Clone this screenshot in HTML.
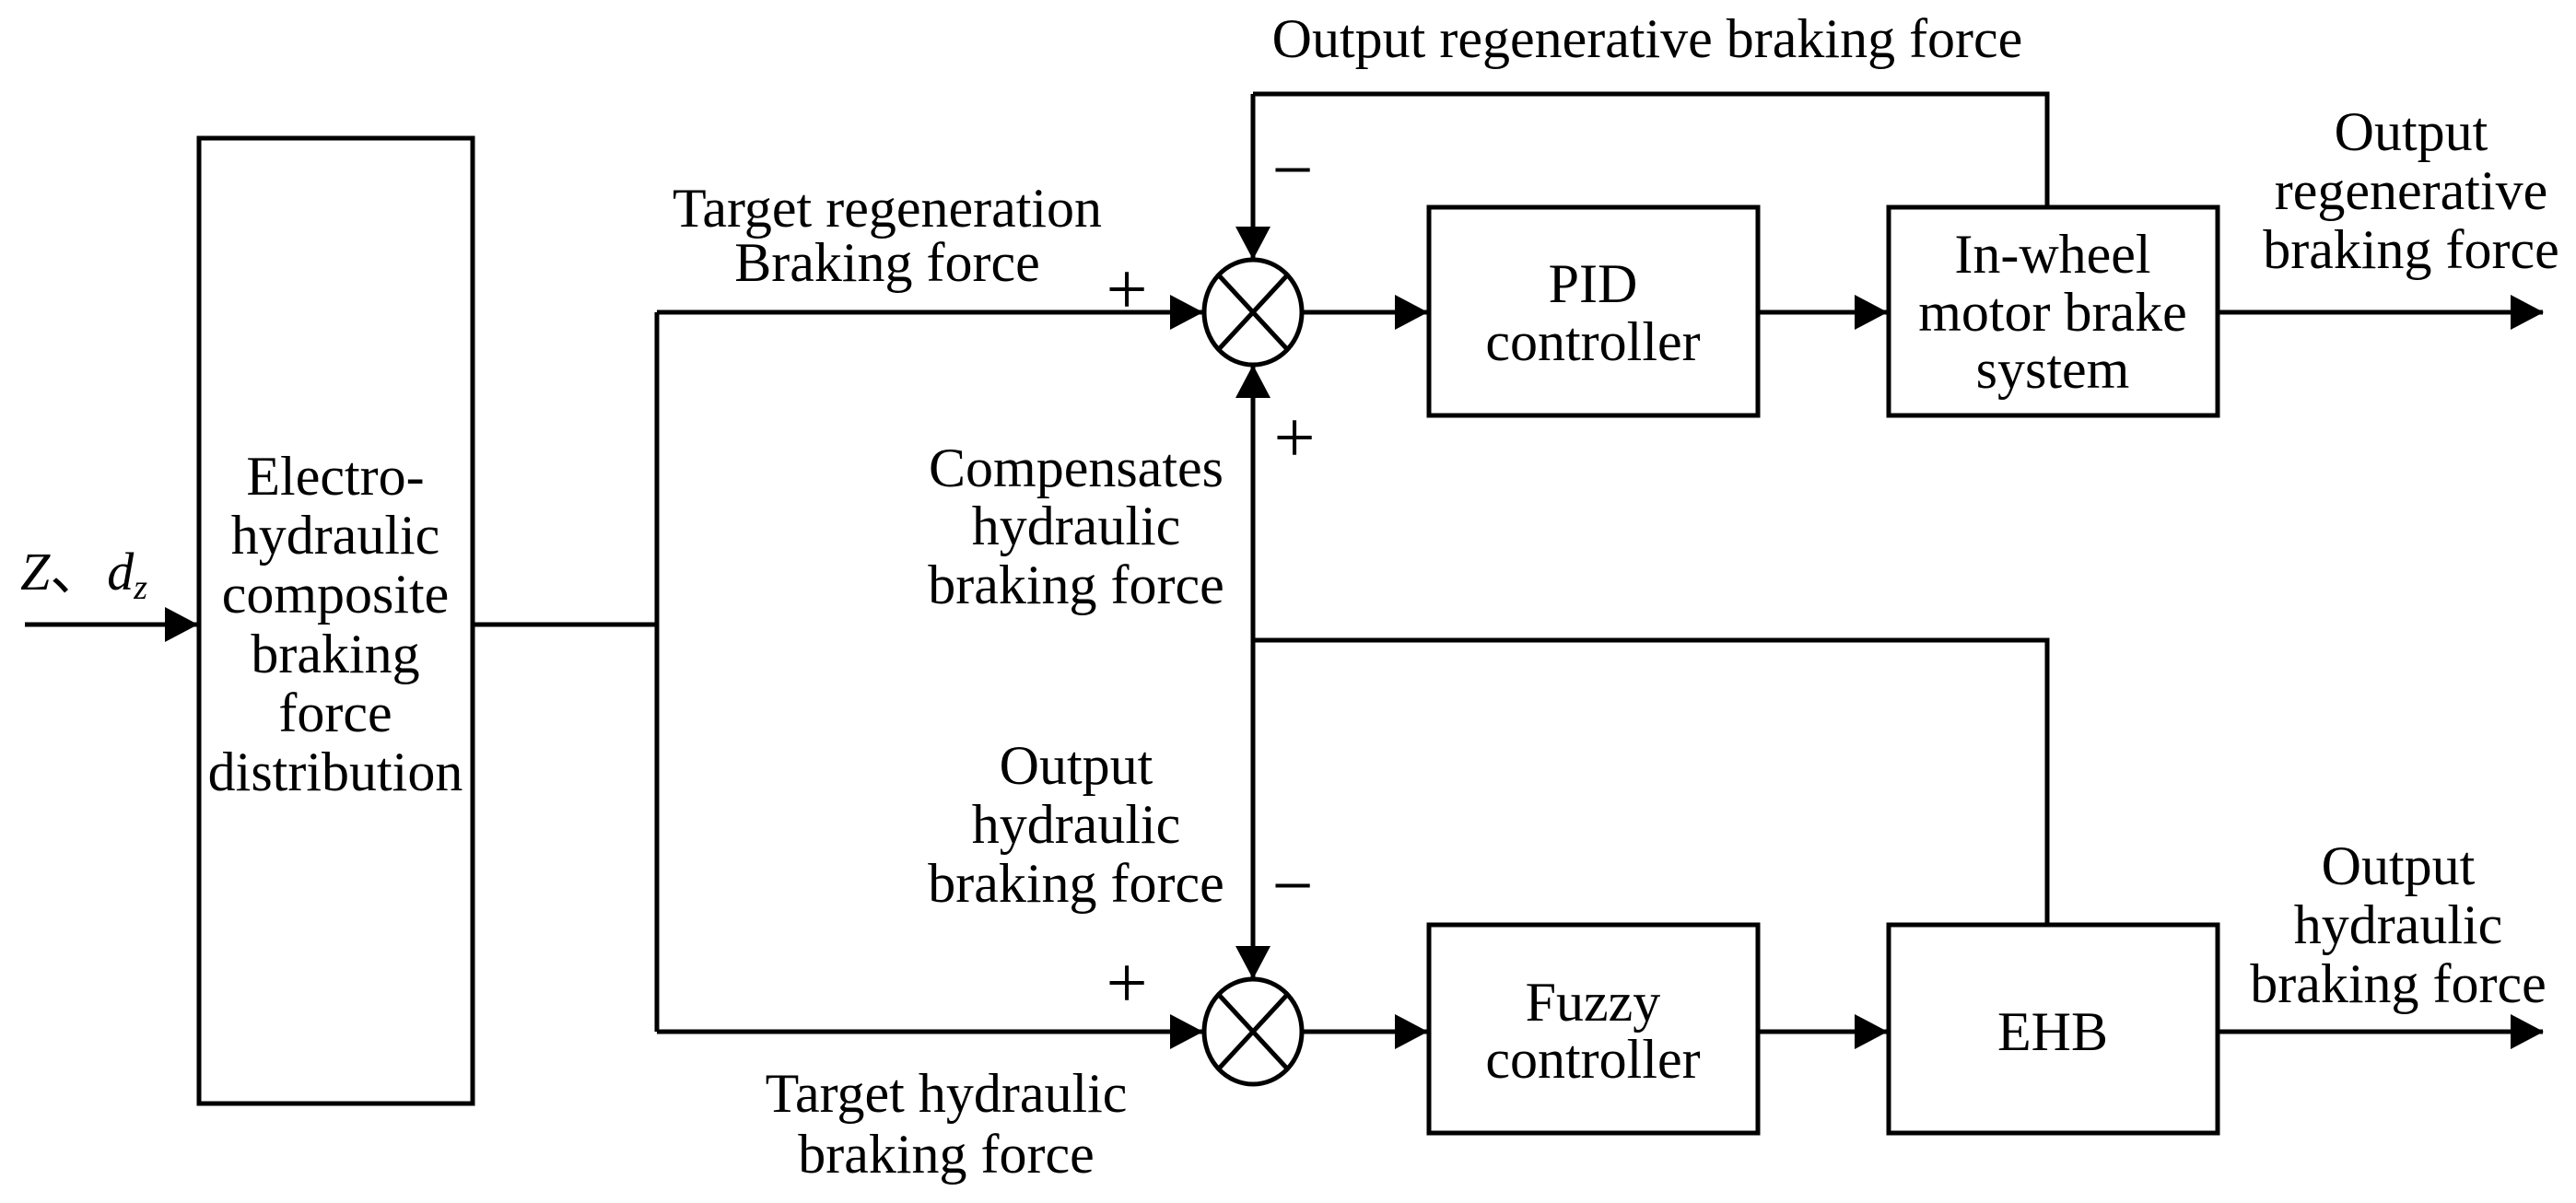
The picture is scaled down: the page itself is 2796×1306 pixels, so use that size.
<!DOCTYPE html>
<html><head><style>html,body{margin:0;padding:0;background:#fff}</style></head>
<body>
<svg width="2796" height="1301" viewBox="0 0 2796 1301" xmlns="http://www.w3.org/2000/svg" font-family="Liberation Serif, serif" font-size="60" fill="#000">
<defs>
<marker id="a" markerWidth="36" markerHeight="40" refX="35" refY="20" orient="auto" markerUnits="userSpaceOnUse">
<path d="M0,1 L36,20 L0,39 Z" fill="#000"/>
</marker>
</defs>
<g stroke="#000" stroke-width="5" fill="none">
<rect x="216" y="150" width="297" height="1048"/>
<rect x="1551" y="225" width="357" height="226"/>
<rect x="2050" y="225" width="357" height="226"/>
<rect x="1551" y="1004" width="357" height="226"/>
<rect x="2050" y="1004" width="357" height="226"/>
<ellipse cx="1360" cy="339" rx="53" ry="57"/>
<ellipse cx="1360" cy="1120" rx="53" ry="57"/>
<path d="M1323,299 L1397,379 M1397,299 L1323,379"/>
<path d="M1323,1080 L1397,1160 M1397,1080 L1323,1160"/>
<line x1="27" y1="678" x2="214" y2="678" marker-end="url(#a)"/>
<polyline points="513,678 713,678"/>
<polyline points="713,339 713,1120"/>
<line x1="713" y1="339" x2="1305" y2="339" marker-end="url(#a)"/>
<line x1="713" y1="1120" x2="1305" y2="1120" marker-end="url(#a)"/>
<line x1="1413" y1="339" x2="1549" y2="339" marker-end="url(#a)"/>
<line x1="1908" y1="339" x2="2048" y2="339" marker-end="url(#a)"/>
<line x1="1413" y1="1120" x2="1549" y2="1120" marker-end="url(#a)"/>
<line x1="1908" y1="1120" x2="2048" y2="1120" marker-end="url(#a)"/>
<line x1="2407" y1="339" x2="2760" y2="339" marker-end="url(#a)"/>
<line x1="2407" y1="1120" x2="2760" y2="1120" marker-end="url(#a)"/>
<polyline points="2222,225 2222,102 1360,102"/>
<line x1="1360" y1="102" x2="1360" y2="281" marker-end="url(#a)"/>
<line x1="1360" y1="695" x2="1360" y2="397" marker-end="url(#a)"/>
<line x1="1360" y1="695" x2="1360" y2="1062" marker-end="url(#a)"/>
<polyline points="1360,695 2222,695 2222,1004"/>
</g>
<g text-anchor="middle" dominant-baseline="central">
<text x="1788" y="42">Output regenerative braking force</text>
<text x="963" y="226">Target regeneration</text>
<text x="963" y="285">Braking force</text>
<text x="1223" y="315" font-size="80">+</text>
<text x="1403" y="185" font-size="80">−</text>
<text x="1405" y="476" font-size="80">+</text>
<text x="1403" y="962" font-size="80">−</text>
<text x="1223" y="1068" font-size="80">+</text>
<text x="1168" y="508">Compensates</text>
<text x="1168" y="571">hydraulic</text>
<text x="1168" y="635">braking force</text>
<text x="1168" y="831">Output</text>
<text x="1168" y="895">hydraulic</text>
<text x="1168" y="959">braking force</text>
<text x="1027" y="1187">Target hydraulic</text>
<text x="1027" y="1253">braking force</text>
<text x="364" y="517">Electro-</text>
<text x="364" y="581">hydraulic</text>
<text x="364" y="645">composite</text>
<text x="364" y="710">braking</text>
<text x="364" y="774">force</text>
<text x="364" y="838">distribution</text>
<text x="1729" y="308">PID</text>
<text x="1729" y="371">controller</text>
<text x="2228" y="276">In-wheel</text>
<text x="2228" y="339">motor brake</text>
<text x="2228" y="401">system</text>
<text x="1729" y="1088">Fuzzy</text>
<text x="1729" y="1150">controller</text>
<text x="2228" y="1120">EHB</text>
<text x="2617" y="143">Output</text>
<text x="2617" y="207">regenerative</text>
<text x="2617" y="271">braking force</text>
<text x="2603" y="940">Output</text>
<text x="2603" y="1004">hydraulic</text>
<text x="2603" y="1068">braking force</text>
</g>
<text x="22" y="640" font-style="italic" font-size="58">Z<tspan font-style="normal" font-family="Noto Sans CJK SC, sans-serif">、</tspan><tspan dx="4">d</tspan><tspan font-size="38" dy="10">z</tspan></text>
</svg>
</body></html>
